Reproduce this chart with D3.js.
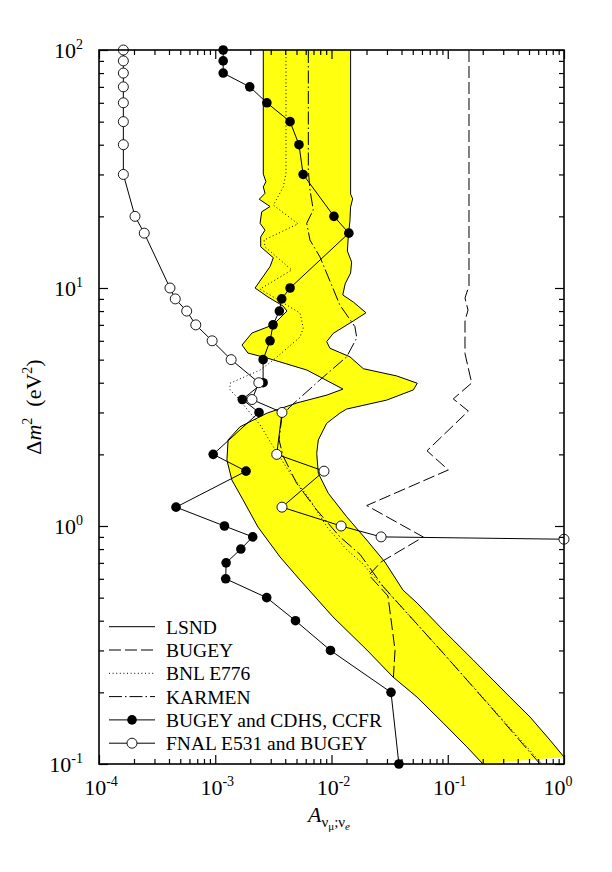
<!DOCTYPE html>
<html><head><meta charset="utf-8">
<script src="https://cdn.jsdelivr.net/npm/d3@7"></script>
<style>body{margin:0;background:#fff} text{font-family:"Liberation Serif","DejaVu Serif",serif;}</style>
</head><body>
<svg id="chart" width="612" height="872"></svg>
<script>
// ---------- data (x = A, y = Δm² in eV²) ----------
const xTickExps = [-4, -3, -2, -1, 0];
const yTickExps = [-1, 0, 1, 2];

const lsndLeft = [[0.00259,100],[0.00259,30.1],[0.00273,28.0],[0.00259,26.6],[0.00268,25.0],[0.00239,23.6],[0.00296,22.0],[0.00251,20.9],[0.00243,18.7],[0.00268,17.5],[0.00246,16.4],[0.00246,14.9],[0.00316,13.4],[0.00296,12.3],[0.00220,10.0],[0.00284,9.17],[0.00383,8.4],[0.00414,8.0],[0.00361,7.48],[0.00314,7.0],[0.00207,6.47],[0.00170,5.76],[0.00191,5.33],[0.00279,5.08],[0.00615,4.52],[0.01256,3.76],[0.00915,3.55],[0.00505,3.29],[0.00279,2.98],[0.00163,2.61],[0.00129,2.30],[0.00126,1.89],[0.00139,1.56],[0.00173,1.29],[0.00233,0.99],[0.00361,0.741],[0.00536,0.593],[0.0103,0.415],[0.0202,0.301],[0.0338,0.232],[0.0544,0.191],[0.0910,0.149],[0.146,0.118],[0.201,0.1]];

const lsndRight = [[0.0146,100],[0.0146,24.8],[0.0152,23.7],[0.0146,21.9],[0.0144,19.1],[0.01395,16.5],[0.0137,14.3],[0.0149,12.85],[0.0146,11.56],[0.0131,10.4],[0.0125,9.35],[0.0154,8.73],[0.0198,7.87],[0.0154,7.27],[0.01036,6.45],[0.00909,5.95],[0.00971,5.58],[0.0144,5.14],[0.0188,4.58],[0.0364,4.27],[0.0547,3.98],[0.0506,3.73],[0.0298,3.38],[0.0135,3.10],[0.0118,2.98],[0.00909,2.70],[0.0077,2.30],[0.00746,2.02],[0.0077,1.666],[0.00939,1.372],[0.0135,1.094],[0.0201,0.873],[0.0288,0.706],[0.0412,0.538],[0.0544,0.475],[0.091,0.366],[0.165,0.274],[0.343,0.191],[0.51,0.1576],[0.758,0.126],[1.0,0.107]];

const bugey = [[0.1523,100],[0.1523,10.2],[0.1407,9.08],[0.1494,8.08],[0.1407,7.27],[0.1407,5.30],[0.1607,3.99],[0.1116,3.42],[0.1503,3.04],[0.0663,2.07],[0.1011,1.72],[0.0201,1.219],[0.0616,0.899],[0.0267,0.706],[0.0210,0.622],[0.0306,0.508],[0.0352,0.301],[0.0341,0.232]];

const bnl = [[0.00406,100],[0.00406,30.4],[0.00385,26.6],[0.00316,22.3],[0.00515,18.6],[0.00263,15.9],[0.00268,14.9],[0.00455,11.9],[0.00243,9.9],[0.00536,7.85],[0.00572,6.79],[0.00536,6.22],[0.00316,4.98],[0.00243,4.52],[0.00134,3.98],[0.00134,3.73],[0.00154,3.48],[0.00243,2.66],[0.00316,2.15],[0.0044,1.67],[0.00653,1.29],[0.00915,0.99],[0.0136,0.793],[0.0183,0.699],[0.0283,0.549],[0.0928,0.29],[0.25,0.1687],[0.647,0.1]];

const karmen = [[0.00632,100],[0.00632,31.3],[0.00653,25.8],[0.00697,21.3],[0.00612,18.7],[0.00653,15.9],[0.00796,13.5],[0.0118,8.48],[0.0159,6.88],[0.0165,6.17],[0.0135,5.14],[0.00796,4.11],[0.0044,3.17],[0.00375,2.90],[0.00354,2.30],[0.00383,1.97],[0.00502,1.51],[0.00746,1.167],[0.0118,0.901],[0.0176,0.76],[0.0279,0.556],[0.0916,0.292],[0.2466,0.1687],[0.622,0.1]];

const bugeyCdhs = [[0.00117,100],[0.00117,90],[0.00117,80],[0.00198,70],[0.00278,60],[0.0044,50],[0.00525,40],[0.0057,30],[0.0105,20],[0.0141,17],[0.0044,10],[0.00373,9],[0.00356,8],[0.00314,7],[0.00296,6],[0.00258,5],[0.00258,4],[0.00171,3.4],[0.00238,3],[0.00096,2],[0.00184,1.7],[0.00046,1.2],[0.0012,1.0],[0.0021,0.9],[0.00166,0.8],[0.00124,0.7],[0.00123,0.6],[0.00277,0.5],[0.0049,0.4],[0.0098,0.3],[0.0325,0.2],[0.038,0.1]];

const fnal = [[0.000162,100],[0.000162,90],[0.000162,80],[0.000162,70],[0.000162,60],[0.000162,50],[0.000162,40],[0.000162,30],[0.000204,20],[0.000245,17],[0.000408,10],[0.000453,9],[0.000568,8],[0.00068,7],[0.00094,6],[0.00137,5],[0.00237,4],[0.00207,3.4],[0.00375,3],[0.00338,2],[0.00862,1.7],[0.00375,1.2],[0.0121,1.0],[0.0267,0.9],[1.0,0.88]];

const legendLabels = ["LSND", "BUGEY", "BNL E776", "KARMEN", "BUGEY and CDHS, CCFR", "FNAL E531 and BUGEY"];

// ---------- layout ----------
const L = 99, R = 564, T = 50, B = 764;
const svg = d3.select("#chart");
const x = d3.scaleLog().domain([1e-4, 1]).range([L, R]);
const y = d3.scaleLog().domain([0.1, 100]).range([B, T]);

svg.append("defs").append("clipPath").attr("id", "plotclip")
  .append("rect").attr("x", L).attr("y", T).attr("width", R - L).attr("height", B - T);

const line = d3.line().x(d => x(d[0])).y(d => y(d[1]));
const plot = svg.append("g").attr("clip-path", "url(#plotclip)");

// LSND band
const band = lsndLeft.concat(lsndRight.slice().reverse());
plot.append("path").attr("d", line(band) + "Z")
  .attr("fill", "#ffff10").attr("stroke", "none");
plot.append("path").attr("d", line(lsndLeft)).attr("fill", "none").attr("stroke", "#000").attr("stroke-width", 1);
plot.append("path").attr("d", line(lsndRight)).attr("fill", "none").attr("stroke", "#000").attr("stroke-width", 1);

const styles = {
  bugey: "12,4",
  bnl: "1,2.6",
  karmen: "13,3,1.5,3"
};
plot.append("path").attr("d", line(bugey)).attr("fill", "none").attr("stroke", "#000").attr("stroke-width", 1).attr("stroke-dasharray", styles.bugey);
plot.append("path").attr("d", line(bnl)).attr("fill", "none").attr("stroke", "#000").attr("stroke-width", 1).attr("stroke-dasharray", styles.bnl);
plot.append("path").attr("d", line(karmen)).attr("fill", "none").attr("stroke", "#000").attr("stroke-width", 1).attr("stroke-dasharray", styles.karmen);

// series with markers
plot.append("path").attr("d", line(bugeyCdhs)).attr("fill", "none").attr("stroke", "#000").attr("stroke-width", 1);
plot.append("path").attr("d", line(fnal)).attr("fill", "none").attr("stroke", "#000").attr("stroke-width", 1);

svg.append("g").selectAll("circle").data(bugeyCdhs).join("circle")
  .attr("cx", d => x(d[0])).attr("cy", d => y(d[1])).attr("r", 4.8).attr("fill", "#000");
svg.append("g").selectAll("circle").data(fnal).join("circle")
  .attr("cx", d => x(d[0])).attr("cy", d => y(d[1])).attr("r", 5).attr("fill", "#fff")
  .attr("stroke", "#000").attr("stroke-width", 0.9);

// ---------- axes ----------
const minor = [];
for (let e = -4; e < 0; e++) for (let k = 2; k <= 9; k++) minor.push(k * Math.pow(10, e));
const minorY = [];
for (let e = -1; e < 2; e++) for (let k = 2; k <= 9; k++) minorY.push(k * Math.pow(10, e));
const majorX = xTickExps.map(e => Math.pow(10, e));
const majorY = yTickExps.map(e => Math.pow(10, e));

function styleAxis(g) {
  g.select(".domain").remove();
  g.selectAll("line").attr("stroke", "#000").attr("stroke-width", 1.2);
}
svg.append("g").attr("transform", `translate(0,${B})`).call(d3.axisBottom(x).tickValues(majorX).tickSize(-9).tickFormat("")).call(styleAxis);
svg.append("g").attr("transform", `translate(0,${B})`).call(d3.axisBottom(x).tickValues(minor).tickSize(-5).tickFormat("")).call(styleAxis);
svg.append("g").attr("transform", `translate(0,${T})`).call(d3.axisTop(x).tickValues(majorX).tickSize(-9).tickFormat("")).call(styleAxis);
svg.append("g").attr("transform", `translate(0,${T})`).call(d3.axisTop(x).tickValues(minor).tickSize(-5).tickFormat("")).call(styleAxis);
svg.append("g").attr("transform", `translate(${L},0)`).call(d3.axisLeft(y).tickValues(majorY).tickSize(-9).tickFormat("")).call(styleAxis);
svg.append("g").attr("transform", `translate(${L},0)`).call(d3.axisLeft(y).tickValues(minorY).tickSize(-5).tickFormat("")).call(styleAxis);
svg.append("g").attr("transform", `translate(${R},0)`).call(d3.axisRight(y).tickValues(majorY).tickSize(-9).tickFormat("")).call(styleAxis);
svg.append("g").attr("transform", `translate(${R},0)`).call(d3.axisRight(y).tickValues(minorY).tickSize(-5).tickFormat("")).call(styleAxis);

svg.append("rect").attr("x", L).attr("y", T).attr("width", R - L).attr("height", B - T)
  .attr("fill", "none").attr("stroke", "#000").attr("stroke-width", 1.6);

// tick labels
xTickExps.forEach((e, i) => {
  const last = i === xTickExps.length - 1;
  const t = svg.append("text").attr("x", x(Math.pow(10, e)) + (last ? -6 : 2)).attr("y", 795)
    .attr("text-anchor", "middle").attr("fill", "#000");
  t.append("tspan").attr("font-size", 22).text("10");
  t.append("tspan").attr("font-size", 14).attr("dy", -9).text(String(e));
});
yTickExps.forEach(e => {
  const t = svg.append("text").attr("x", 83).attr("y", y(Math.pow(10, e)) + 8)
    .attr("text-anchor", "end").attr("fill", "#000");
  t.append("tspan").attr("font-size", 22).text("10");
  t.append("tspan").attr("font-size", 14).attr("dy", -9).text(String(e));
});

// axis titles
const yt = svg.append("text").attr("transform", "translate(41,407) rotate(-90)")
  .attr("text-anchor", "middle").attr("font-size", 22).attr("fill", "#000");
yt.append("tspan").text("Δ");
yt.append("tspan").attr("font-style", "italic").text("m");
yt.append("tspan").attr("font-size", 14).attr("dy", -9).text("2");
yt.append("tspan").attr("dy", 9).text("\u00a0\u00a0(eV");
yt.append("tspan").attr("font-size", 14).attr("dy", -9).text("2");
yt.append("tspan").attr("dy", 9).text(")");

const xt = svg.append("text").attr("x", 308).attr("y", 822)
  .attr("font-size", 22).attr("fill", "#000");
xt.append("tspan").attr("font-style", "italic").text("A");
xt.append("tspan").attr("font-size", 15).attr("dy", 5).text("ν");
xt.append("tspan").attr("font-size", 11).attr("dy", 3).text("μ");
xt.append("tspan").attr("font-size", 15).attr("dy", -3).text(";ν");
xt.append("tspan").attr("font-size", 11).attr("font-style", "italic").attr("dy", 3).text("e");

// ---------- legend ----------
const legendDash = [null, styles.bugey, styles.bnl, styles.karmen, null, null];
const legendMarker = [null, null, null, null, "filled", "open"];
const lg = svg.append("g");
legendLabels.forEach((lab, i) => {
  const yy = 626.7 + i * 23.3;
  lg.append("line").attr("x1", 109).attr("x2", 155).attr("y1", yy).attr("y2", yy)
    .attr("stroke", "#000").attr("stroke-width", 1)
    .attr("stroke-dasharray", legendDash[i]);
  if (legendMarker[i] === "filled") {
    lg.append("circle").attr("cx", 132).attr("cy", yy).attr("r", 4.8).attr("fill", "#000");
  } else if (legendMarker[i] === "open") {
    lg.append("circle").attr("cx", 132).attr("cy", yy).attr("r", 5).attr("fill", "#fff").attr("stroke", "#000").attr("stroke-width", 0.9);
  }
  lg.append("text").attr("x", 166).attr("y", yy + 7)
    .attr("font-size", 19.5).attr("fill", "#000").text(lab);
});
</script>
</body></html>
